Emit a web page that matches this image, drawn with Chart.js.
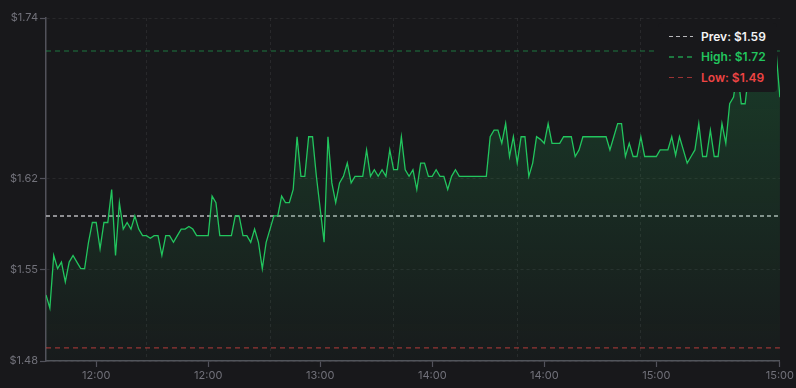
<!DOCTYPE html>
<html>
<head>
<meta charset="utf-8">
<script src="https://cdn.jsdelivr.net/npm/chart.js@4.4.1/dist/chart.umd.min.js"></script>
<style>
  html, body { margin: 0; padding: 0; background: #18181b; }
  #wrap { position: relative; width: 796px; height: 388px; }
  #legend {
    position: absolute; left: 658px; top: 23px; width: 119px; height: 69px;
    background: #18181b; border-radius: 4px; box-sizing: border-box; padding: 3px 0 0 11px;
    font-family: Inter, "Noto Sans", sans-serif; font-size: 12px; font-weight: 600;
  }
  .item { display: flex; align-items: center; height: 20.5px; }
  .swatch { width: 24px; height: 1.5px; margin-right: 8px; }
</style>
</head>
<body>
<div id="wrap">
  <canvas id="chart" width="796" height="388"></canvas>
  <div id="legend"></div>
</div>
<script>
// price ticks, one per sample
const prices = [
  1.53, 1.52, 1.56, 1.55, 1.555, 1.54, 1.555, 1.56, 1.555, 1.55,
  1.55, 1.57, 1.585, 1.585, 1.565, 1.585, 1.585, 1.61, 1.56, 1.60,
  1.58, 1.585, 1.58, 1.59, 1.58, 1.575, 1.575, 1.573, 1.575, 1.575,
  1.56, 1.575, 1.575, 1.57, 1.575, 1.58, 1.58, 1.582, 1.58, 1.575,
  1.575, 1.575, 1.575, 1.605, 1.60, 1.575, 1.575, 1.575, 1.575, 1.59,
  1.59, 1.575, 1.575, 1.57, 1.58, 1.57, 1.55, 1.57, 1.58, 1.59,
  1.59, 1.605, 1.60, 1.60, 1.61, 1.65, 1.62, 1.62, 1.65, 1.65,
  1.62, 1.595, 1.57, 1.65, 1.615, 1.60, 1.615, 1.62, 1.63, 1.615,
  1.62, 1.62, 1.62, 1.64, 1.62, 1.625, 1.62, 1.625, 1.62, 1.64,
  1.625, 1.625, 1.65, 1.625, 1.62, 1.625, 1.61, 1.63, 1.63, 1.62,
  1.62, 1.625, 1.62, 1.62, 1.61, 1.62, 1.625, 1.62, 1.62, 1.62,
  1.62, 1.62, 1.62, 1.62, 1.62, 1.65, 1.655, 1.655, 1.645, 1.66,
  1.635, 1.65, 1.63, 1.65, 1.65, 1.62, 1.63, 1.65, 1.648, 1.645,
  1.66, 1.645, 1.645, 1.645, 1.65, 1.65, 1.65, 1.635, 1.64, 1.65,
  1.65, 1.65, 1.65, 1.65, 1.65, 1.65, 1.64, 1.65, 1.66, 1.66,
  1.635, 1.645, 1.635, 1.635, 1.65, 1.635, 1.635, 1.635, 1.635, 1.64,
  1.64, 1.64, 1.65, 1.636, 1.65, 1.64, 1.63, 1.635, 1.64, 1.66,
  1.635, 1.635, 1.655, 1.635, 1.635, 1.66, 1.645, 1.675, 1.68, 1.70,
  1.675, 1.675, 1.70, 1.70, 1.705, 1.70, 1.71, 1.705, 1.71, 1.715,
  1.68
];

const yTicks = [1.48, 1.549, 1.618, 1.74];
const xTickIdx = [13, 42, 71, 100, 129, 158, 190];
const xTickLabels = ['12:00', '12:00', '13:00', '14:00', '14:00', '15:00', '15:00'];
const gridIdx = [26, 58, 90, 122, 154];

const refNames = ['Prev', 'High', 'Low'];
const refValues = [1.59, 1.715, 1.49];

const fmt = v => '$' + (v + 0.0001).toFixed(2);

const refStyles = [
  { line: 'rgba(212,212,216,0.85)', dash: [4, 3], text: '#f4f4f5', width: 1.5 },
  { line: 'rgba(34,197,94,0.55)', dash: [5, 4], text: '#22c55e', width: 1.2 },
  { line: 'rgba(239,68,68,0.6)', dash: [5, 4], text: '#ef4444', width: 1.2 },
];

const last = prices.length - 1;
const axisColor = '#52525b';
const gridColor = 'rgba(255,255,255,0.07)';
const tickFont = { family: 'Inter', size: 11 };

const refSets = refValues.map((v, i) => ({
  label: refNames[i],
  data: [{ x: 0, y: v }, { x: last, y: v }],
  borderColor: refStyles[i].line,
  borderWidth: refStyles[i].width,
  borderDash: refStyles[i].dash,
  pointRadius: 0,
  fill: false,
  order: 2,
}));

new Chart(document.getElementById('chart'), {
  type: 'line',
  data: {
    datasets: [{
      label: 'Price',
      data: prices.map((p, i) => ({ x: i, y: p })),
      borderColor: '#22c55e',
      borderWidth: 1.3,
      pointRadius: 0,
      tension: 0,
      fill: 'start',
      order: 1,
      backgroundColor: ctx => {
        const area = ctx.chart.chartArea;
        if (!area) return 'rgba(34,197,94,0.1)';
        const g = ctx.chart.ctx.createLinearGradient(0, area.top, 0, area.bottom);
        g.addColorStop(0, 'rgba(34,197,94,0.22)');
        g.addColorStop(1, 'rgba(34,197,94,0.02)');
        return g;
      },
    }, ...refSets]
  },
  options: {
    responsive: false,
    animation: false,
    layout: { padding: { top: 18, right: 16, left: 0, bottom: 0 } },
    plugins: { legend: { display: false }, tooltip: { enabled: false } },
    scales: {
      x: {
        type: 'linear', min: 0, max: last,
        afterBuildTicks: axis => { axis.ticks = xTickIdx.map(v => ({ value: v })); },
        afterFit: axis => { axis.height = 27; },
        ticks: {
          autoSkip: false, maxRotation: 0, padding: 2, color: '#71717a', font: tickFont,
          callback: (v, i) => xTickLabels[i],
        },
        grid: { drawOnChartArea: false, tickLength: 6, tickColor: axisColor, tickWidth: 1.2 },
        border: { color: axisColor, width: 1.5 },
      },
      xgrid: {
        type: 'linear', position: 'top', min: 0, max: last,
        afterBuildTicks: axis => { axis.ticks = gridIdx.map(v => ({ value: v })); },
        afterFit: axis => { axis.height = 0; },
        ticks: { display: false },
        grid: { color: gridColor, drawTicks: false, lineWidth: 1 },
        border: { display: false, dash: [3, 3] },
      },
      y: {
        min: 1.48, max: 1.74,
        afterBuildTicks: axis => { axis.ticks = yTicks.map(v => ({ value: v })); },
        afterFit: axis => { axis.width = 46; },
        ticks: { padding: 2, color: '#71717a', font: tickFont, callback: v => fmt(v) },
        grid: { color: gridColor, tickLength: 6, tickColor: axisColor, tickWidth: 1.2 },
        border: { color: axisColor, width: 1.5, dash: [3, 3] },
      },
    },
  },
});

const legend = document.getElementById('legend');
refNames.forEach((name, i) => {
  const s = refStyles[i];
  const row = document.createElement('div');
  row.className = 'item';
  const sw = document.createElement('span');
  sw.className = 'swatch';
  sw.style.background = `repeating-linear-gradient(90deg, ${s.line} 0 ${s.dash[0]}px, transparent ${s.dash[0]}px ${s.dash[0] + s.dash[1]}px)`;
  const txt = document.createElement('span');
  txt.style.color = s.text;
  txt.textContent = `${name}: ${fmt(refValues[i])}`;
  row.appendChild(sw);
  row.appendChild(txt);
  legend.appendChild(row);
});
</script>
</body>
</html>
